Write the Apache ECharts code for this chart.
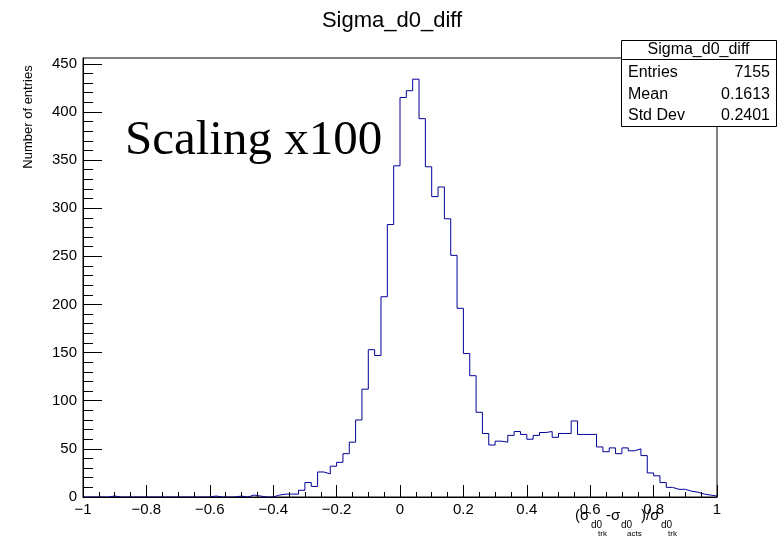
<!DOCTYPE html>
<html>
<head>
<meta charset="utf-8">
<script src="https://cdn.jsdelivr.net/npm/echarts@6/dist/echarts.min.js"></script>
<style>
html,body{margin:0;padding:0;background:#fff;}
#chart{width:784px;height:541px;}
</style>
</head>
<body>
<div id="chart"></div>
<script>
// ---- data ----
const chartTitle = 'Sigma_d0_diff';
const xMin = -1;
const xMax = 1;
const binWidth = 0.02;
// counts per bin (100 bins from -1 to 1)
const counts = [
  0,0,0,0,1,0,0,0,0,0,
  0,0,0,0,0,0,0,0,0,0,
  1,0,0,0,1,0,2,1,0,0,
  2,3,3,3,7,15,11,26,24,32,
  36,45,57,80,112,153,147,208,283,344,
  415,422,434,393,343,312,322,289,251,196,
  149,126,88,66,54,58,57,64,68,65,
  60,64,67,68,62,66,66,79,65,65,
  65,52,47,51,45,51,48,50,43,25,
  22,15,10,8,8,6,5,3,2,1
];
const yMax = 456;
const yMajorTicks = [0,50,100,150,200,250,300,350,400,450];
const yMinorTicks = [0,10,20,30,40,50,60,70,80,90,100,110,120,130,140,150,160,170,180,190,200,210,220,230,240,250,260,270,280,290,300,310,320,330,340,350,360,370,380,390,400,410,420,430,440,450];
const xMajorTicks = [-1,-0.8,-0.6,-0.4,-0.2,0,0.2,0.4,0.6,0.8,1];
const xMinorTicks = [-0.95,-0.9,-0.85,-0.75,-0.7,-0.65,-0.55,-0.5,-0.45,-0.35,-0.3,-0.25,-0.15,-0.1,-0.05,0.05,0.1,0.15,0.25,0.3,0.35,0.45,0.5,0.55,0.65,0.7,0.75,0.85,0.9,0.95];
const statsLabels = ['Entries','Mean','Std Dev'];
const statsValues = ['7155','0.1613','0.2401'];
const yAxisTitle = 'Number of entries';
const annotation = 'Scaling x100';

// ---- build ----
const stepData = counts.map((c, i) => [xMin + i * binWidth, c]);
stepData.push([xMax, counts[counts.length - 1]]);

const FONT = '"Liberation Sans", Arial, Helvetica, sans-serif';
const fmt = v => {
  const r = Math.round(v * 100) / 100;
  return String(r).replace('-', '\u2212');
};

const chart = echarts.init(document.getElementById('chart'), null, {renderer: 'canvas'});

const statsTop = 40, statsLeft = 621, statsRight = 776, statsHeadBottom = 59, statsBottom = 126;
const rowY = [73, 95, 116];

const graphics = [
  {type:'text', z:100, style:{x:392, y:21, text: chartTitle, font:'22px ' + FONT, fill:'#000', align:'center', verticalAlign:'middle'}},
  {type:'text', z:100, rotation: Math.PI/2, x:28, y:117, style:{x:0, y:0, text: yAxisTitle, font:'13px ' + FONT, fill:'#000', align:'center', verticalAlign:'middle'}},
  {type:'text', z:100, style:{x:125, y:141, text: annotation, font:'49px "Liberation Serif", "DejaVu Serif", serif', fill:'#000', align:'left', verticalAlign:'middle'}},
  {type:'rect', z:100, shape:{x:statsLeft+0.5, y:statsTop+0.5, width:statsRight-statsLeft, height:statsBottom-statsTop}, style:{fill:'#fff', stroke:'#000', lineWidth:1}},
  {type:'line', z:101, shape:{x1:statsLeft, y1:statsHeadBottom+0.5, x2:statsRight, y2:statsHeadBottom+0.5}, style:{stroke:'#000', lineWidth:1}},
  {type:'text', z:102, style:{x:(statsLeft+statsRight)/2, y:50, text: chartTitle, font:'16px ' + FONT, fill:'#000', align:'center', verticalAlign:'middle'}}
];
statsLabels.forEach((lab, i) => {
  graphics.push({type:'text', z:102, style:{x:628, y:rowY[i], text: lab, font:'16px ' + FONT, fill:'#000', align:'left', verticalAlign:'middle'}});
  graphics.push({type:'text', z:102, style:{x:770, y:rowY[i], text: statsValues[i], font:'16px ' + FONT, fill:'#000', align:'right', verticalAlign:'middle'}});
});
// x-axis title pieces: (σ_{d0_{trk}} - σ_{d0_{acts}})/σ_{d0_{trk}}
const xt = [
  {t:'(\u03c3', x:575, y:516, s:15},
  {t:'d0', x:591, y:525, s:10},
  {t:'trk', x:598, y:534, s:8},
  {t:'-\u03c3', x:606, y:516, s:15},
  {t:'d0', x:621, y:525, s:10},
  {t:'acts', x:627, y:534, s:8},
  {t:')/\u03c3', x:641, y:516, s:15},
  {t:'d0', x:661, y:525, s:10},
  {t:'trk', x:668, y:534, s:8}
];
xt.forEach(p => graphics.push({type:'text', z:100, style:{x:p.x, y:p.y, text:p.t, font:p.s + 'px ' + FONT, fill:'#000', align:'left', verticalAlign:'middle'}}));

chart.setOption({
  animation: false,
  backgroundColor: '#fff',
  grid: {left: 83, right: 67, top: 58, bottom: 44, show: true, borderColor: '#000', borderWidth: 1, backgroundColor: 'transparent'},
  xAxis: [{
    type: 'value', min: xMin, max: xMax, position: 'bottom', z: 10,
    axisLine: {show: true, onZero: false, lineStyle: {color: '#000', width: 1}},
    axisTick: {show: true, inside: true, length: 12, customValues: xMajorTicks, lineStyle: {color: '#000'}},
    axisLabel: {customValues: xMajorTicks, formatter: fmt, fontSize: 15, fontFamily: FONT, color: '#000', margin: 5},
    splitLine: {show: false}
  }, {
    type: 'value', min: xMin, max: xMax, position: 'bottom', offset: 0, z: 10,
    axisLine: {show: false, onZero: false},
    axisTick: {show: true, inside: true, length: 5, customValues: xMinorTicks, lineStyle: {color: '#000'}},
    axisLabel: {show: false},
    splitLine: {show: false}
  }],
  yAxis: [{
    type: 'value', min: 0, max: yMax, position: 'left', z: 10,
    axisLine: {show: true, onZero: false, lineStyle: {color: '#000', width: 1}},
    axisTick: {show: true, inside: true, length: 19, customValues: yMajorTicks, lineStyle: {color: '#000'}},
    axisLabel: {customValues: yMajorTicks, fontSize: 15, fontFamily: FONT, color: '#000', margin: 6},
    splitLine: {show: false}
  }, {
    type: 'value', min: 0, max: yMax, position: 'left', offset: 0, z: 10,
    axisLine: {show: false, onZero: false},
    axisTick: {show: true, inside: true, length: 10, customValues: yMinorTicks, lineStyle: {color: '#000'}},
    axisLabel: {show: false},
    splitLine: {show: false}
  }],
  series: [{
    type: 'line', step: 'end', xAxisIndex: 0, yAxisIndex: 0,
    data: stepData, symbol: 'none',
    lineStyle: {color: '#000099', width: 1},
    z: 2
  }],
  graphic: graphics
});
</script>
</body>
</html>
